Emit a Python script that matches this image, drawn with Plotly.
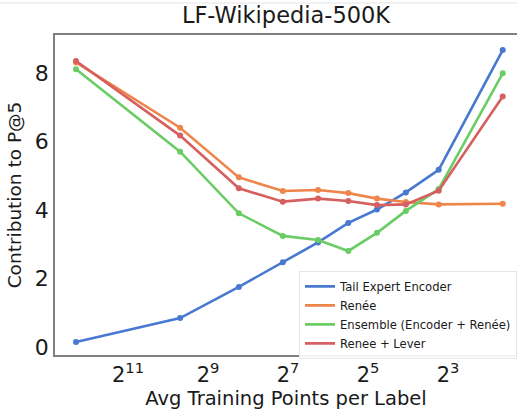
import plotly.graph_objects as go

# Average training points per label for each bucket (head -> tail)
avg_points = [5040, 830, 300, 140, 76, 45, 27.4, 16.6, 9.4, 3.1]

tail_expert = [0.15, 0.85, 1.76, 2.48, 3.06, 3.63, 4.02, 4.52, 5.18, 8.68]
renee = [8.32, 6.41, 4.96, 4.56, 4.59, 4.50, 4.34, 4.24, 4.17, 4.19]
ensemble = [8.12, 5.71, 3.91, 3.25, 3.13, 2.81, 3.34, 3.98, 4.62, 8.00]
renee_lever = [8.36, 6.18, 4.64, 4.25, 4.34, 4.27, 4.15, 4.17, 4.57, 7.32]

series_names = ["Tail Expert Encoder", "Renée", "Ensemble (Encoder + Renée)", "Renee + Lever"]
series_colors = ["#4878d0", "#ee854a", "#6acc64", "#d65f5f"]

tick_vals = [2048, 512, 128, 32, 8]
tick_text = ["2<sup>11</sup>", "2<sup>9</sup>", "2<sup>7</sup>", "2<sup>5</sup>", "2<sup>3</sup>"]
y_ticks = [0, 2, 4, 6, 8]

FONT = "DejaVu Sans"

fig = go.Figure()
for name, vals, color in zip(series_names, [tail_expert, renee, ensemble, renee_lever], series_colors):
    # data line with point markers
    fig.add_trace(go.Scatter(
        x=avg_points, y=vals, name=name, mode="lines+markers",
        line=dict(color=color, width=2.6),
        marker=dict(color=color, size=6),
        showlegend=False,
    ))
    # plain line swatch for the legend
    fig.add_trace(go.Scatter(
        x=[None], y=[None], name=name, mode="lines",
        line=dict(color=color, width=2.6),
        showlegend=True, hoverinfo="skip",
    ))

fig.update_layout(
    width=517, height=412,
    margin=dict(l=55, r=0, t=35, b=57),
    plot_bgcolor="white", paper_bgcolor="white",
    font=dict(family=FONT, color="#1a1a1a"),
    title=dict(text="LF-Wikipedia-500K", x=0.5, xanchor="center", xref="paper",
               y=0.963, yanchor="middle", font=dict(size=22.5, family=FONT, color="#1a1a1a")),
    showlegend=True,
    legend=dict(
        x=1.0, xanchor="right", y=-0.012, yanchor="bottom",
        bgcolor="rgba(255,255,255,0.9)", bordercolor="#e6e6e6", borderwidth=1,
        font=dict(size=11.6, family=FONT, color="#1a1a1a"),
        itemwidth=30, tracegroupgap=0,
    ),
)

fig.update_xaxes(
    type="log",
    range=[3.8607, 0.3838],
    tickvals=tick_vals, ticktext=tick_text,
    tickfont=dict(size=21, family=FONT),
    ticks="", showgrid=False, zeroline=False,
    showline=True, linecolor="#808080", linewidth=1.5, mirror=True,
    title=dict(text="Avg Training Points per Label", font=dict(size=19.5, family=FONT), standoff=4),
)
fig.update_yaxes(
    range=[-0.23, 9.12],
    tickvals=y_ticks,
    tickfont=dict(size=22, family=FONT),
    ticks="", showgrid=False, zeroline=False,
    showline=True, linecolor="#808080", linewidth=1.5,
    title=dict(text="Contribution to P@5", font=dict(size=18.5, family=FONT), standoff=8),
)

# faint rule along the top of the canvas
fig.add_shape(type="line", xref="paper", yref="paper",
              x0=-55 / 462, x1=1.0, y0=(355 - 3) / 320, y1=(355 - 3) / 320,
              line=dict(color="#e4e4e4", width=1))

fig.write_html("out.html")
